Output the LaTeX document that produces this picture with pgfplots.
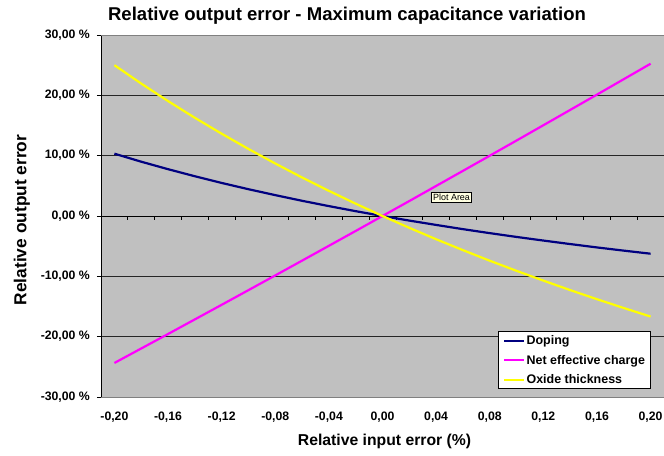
\documentclass[border=0pt]{standalone}
\usepackage{fontspec}
\setmainfont{Liberation Sans}
\usepackage{pgfplots}
\usepackage{pgfplotstable}
\pgfplotsset{compat=1.18}
\definecolor{plotgray}{HTML}{C0C0C0}
\definecolor{dopnavy}{HTML}{000080}
\definecolor{netmag}{HTML}{FF00FF}
\definecolor{oxyellow}{HTML}{FFFF00}
\definecolor{framegray}{HTML}{808080}
\definecolor{tipfill}{HTML}{FFFFE1}

\pgfplotstableread{
x y
-0.20 10.33
-0.18 9.00
-0.16 7.76
-0.14 6.59
-0.12 5.48
-0.10 4.44
-0.08 3.46
-0.06 2.52
-0.04 1.64
-0.02 0.80
0.00 0.00
0.02 -0.76
0.04 -1.48
0.06 -2.18
0.08 -2.84
0.10 -3.47
0.12 -4.07
0.14 -4.65
0.16 -5.21
0.18 -5.74
0.20 -6.25
}\doping

\pgfplotstableread{
x y
-0.20 -24.36
-0.18 -21.96
-0.16 -19.56
-0.14 -17.14
-0.12 -14.72
-0.10 -12.29
-0.08 -9.85
-0.06 -7.40
-0.04 -4.94
-0.02 -2.48
0.00 0.00
0.02 2.48
0.04 4.98
0.06 7.48
0.08 9.99
0.10 12.51
0.12 15.04
0.14 17.58
0.16 20.12
0.18 22.68
0.20 25.24
}\netcharge

\pgfplotstableread{
x y
-0.20 25.00
-0.18 21.95
-0.16 19.05
-0.14 16.28
-0.12 13.64
-0.10 11.11
-0.08 8.70
-0.06 6.38
-0.04 4.17
-0.02 2.04
0.00 0.00
0.02 -1.96
0.04 -3.85
0.06 -5.66
0.08 -7.41
0.10 -9.09
0.12 -10.71
0.14 -12.28
0.16 -13.79
0.18 -15.25
0.20 -16.67
}\oxide

\begin{document}
\begin{tikzpicture}
\useasboundingbox (-101bp,-59bp) rectangle (563bp,397bp);
\pgfplotsset{
  common/.style={scale only axis, width=563bp, height=362bp,
    xmin=-0.21, xmax=0.21, ymin=-30, ymax=30},
  tickfont/.style={font=\fontsize{12.3}{14}\selectfont\bfseries},
}
% background, grid, zero axis with category ticks, left axis with labels
\begin{axis}[common,
  axis background/.style={fill=plotgray},
  axis x line=middle, axis y line=left,
  axis line style={-, black, line width=0.8bp},
  hide obscured x ticks=false, hide obscured y ticks=false,
  xtick={-0.19,-0.17,-0.15,-0.13,-0.11,-0.09,-0.07,-0.05,-0.03,-0.01,0.01,0.03,0.05,0.07,0.09,0.11,0.13,0.15,0.17,0.19},
  xticklabels={},
  ytick={-30,-20,-10,0,10,20,30},
  yticklabels={{-30,00 \%},{-20,00 \%},{-10,00 \%},{0,00 \%},{10,00 \%},{20,00 \%},{30,00 \%}},
  tick align=outside, major tick length=4bp,
  tick style={black, line width=0.8bp},
  ymajorgrids, grid style={black!85, line width=0.8bp},
  yticklabel style={tickfont, anchor=east, inner sep=0pt, xshift=-7bp},
]
\end{axis}
% data, frame, x labels, legend
\begin{axis}[common,
  separate axis lines,
  x axis line style={framegray, line width=0.8bp},
  y axis line style={draw=none},
  ytick=\empty,
  xtick={-0.20,-0.16,-0.12,-0.08,-0.04,0,0.04,0.08,0.12,0.16,0.20},
  xticklabels={{-0,20},{-0,16},{-0,12},{-0,08},{-0,04},{0,00},{0,04},{0,08},{0,12},{0,16},{0,20}},
  major tick length=0pt,
  xticklabel style={tickfont, anchor=north, inner sep=0pt, yshift=-14.5bp},
  title={Relative output error - Maximum capacitance variation},
  title style={at={(axis description cs:0.437,1.0525)}, anchor=center, yshift=-6pt, font=\fontsize{18.6}{22}\selectfont\bfseries},
  xlabel={Relative input error (\%)},
  xlabel style={at={(axis description cs:0.5036,-0.123)}, anchor=center, font=\fontsize{15.8}{18}\selectfont\bfseries},
  ylabel={Relative output error},
  ylabel style={at={(axis description cs:-0.1403,0.489)}, anchor=center, font=\fontsize{17.4}{20}\selectfont\bfseries},
  legend style={at={(axis description cs:0.977,0.022)}, anchor=south east,
    draw=black, line width=0.8bp, fill=white,
    font=\fontsize{12.5}{14}\selectfont\bfseries,
    inner xsep=4.5bp, inner ysep=2.5bp, row sep=6.5bp, nodes={inner sep=1.2bp}},
  legend cell align=left,
  legend image code/.code={\draw[#1] (0bp,0bp) -- (20bp,0bp);},
]
\addplot[dopnavy, line width=2.2bp, no marks] table[x=x,y=y] {\doping};
\addlegendentry{Doping}
\addplot[netmag, line width=2.2bp, no marks] table[x=x,y=y] {\netcharge};
\addlegendentry{Net effective charge}
\addplot[oxyellow, line width=2.2bp, no marks] table[x=x,y=y] {\oxide};
\addlegendentry{Oxide thickness}
\node[draw=black, line width=0.5bp, fill=tipfill, font=\fontsize{9}{10}\selectfont, inner sep=1.6bp] at (axis cs:0.0515,3.15) {Plot Area};
\end{axis}
\end{tikzpicture}
\end{document}
